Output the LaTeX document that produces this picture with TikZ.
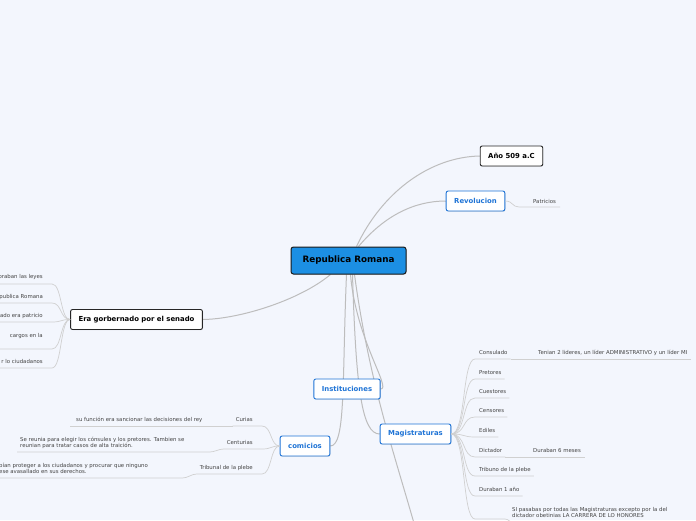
\documentclass[tikz,border=0pt]{standalone}
\usepackage{fontspec}
\setmainfont{DejaVu Sans}
\usepackage{tikz}
\usetikzlibrary{positioning,calc,shadows,backgrounds}
\definecolor{bgpaper}{HTML}{F3F6FD}
\definecolor{rootblue}{HTML}{1C8FE3}
\definecolor{topicblue}{HTML}{1F74D6}
\definecolor{branchgray}{HTML}{BDBDBD}
\definecolor{leafgray}{HTML}{D0D0D0}
\definecolor{leaftext}{HTML}{444444}
\tikzset{
root/.style={
draw=black!90,
line width=1pt,
rounded corners=2.5pt,
fill=rootblue,
minimum width=115pt,
minimum height=27pt,
font=\bfseries\fontsize{8.8}{10}\selectfont,
drop shadow={shadow xshift=0.7pt,shadow yshift=-0.7pt,opacity=0.3}
},
topic/.style={
draw=black!85,
line width=0.9pt,
rounded corners=2pt,
fill=white,
minimum height=20pt,
inner xsep=8pt,
font=\bfseries\fontsize{6.9}{8}\selectfont,
drop shadow={shadow xshift=0.6pt,shadow yshift=-0.6pt,opacity=0.3}
},
subtopic/.style={
topic,
draw=topicblue,
text=topicblue
},
leaf/.style={
inner sep=0pt,
text height=4pt,
text depth=1.3pt,
text=leaftext,
font=\fontsize{5.4}{6.2}\selectfont
},
note/.style={
inner sep=0pt,
align=left,
text=leaftext,
font=\fontsize{5.4}{6.2}\selectfont
},
branch/.style={
draw=branchgray,
line width=1pt
},
twig/.style={
draw=leafgray,
line width=0.7pt
}
}

\begin{document}
\begin{tikzpicture}[x=1pt,y=-1pt]

\clip (0,0) rectangle (696,520);

% main topics
\node[root](rep) at (348.5,260.5){Republica Romana};

\node[topic](anio) at (511.5,156){Año 509 a.C};

\node[subtopic](revol) at (475.5,201){Revolucion};

\node[topic](senado) at (136.5,319.5){Era gorbernado por el senado};

\node[subtopic](instit) at (347,389){Instituciones};

\node[subtopic](comic) at (305,446){comicios};

\node[subtopic](magis) at (415.5,434){Magistraturas};

\coordinate (below) at (420,545);

\begin{scope}[on background layer]
\fill[bgpaper] (0,0) rectangle (696,520);
\draw[branch] ($(rep.north)+(8,0)$) .. controls (382,192) and (430,157) .. (anio.west);
\draw[branch] ($(rep.north)+(10,0)$) .. controls (385,215) and (415,201) .. (revol.west);
\draw[branch] ($(rep.south)+(-18,0)$) .. controls (300,300) and (240,319) .. (senado.east);
\draw[branch] ($(rep.south)+(2,0)$) .. controls (356,340) and (392,389) .. (instit.east);
\draw[branch] ($(rep.south)+(-2,0)$) .. controls (342,380) and (346,446) .. (comic.east);
\draw[branch] ($(rep.south)+(4,0)$) .. controls (356,390) and (362,434) .. (magis.west);
\draw[branch] ($(rep.south)+(6,0)$) .. controls (370,390) and (400,470) .. (below);
\end{scope}

% revolucion
\node[leaf,anchor=west](patric) at (533,202){Patricios};
\draw[twig] (revol.east) .. controls (513,201) and (512,207) .. (519,207) -- ($(patric.east)+(4,5)$);

% senado
\foreach \name/\txt/\y/\u in {s1/oraban las leyes/277/284,s2/publica Romana/297/303,s3/ado era patricio/316/322,s4/cargos en la/336/349,s5/r lo ciudadanos/362/368}{
\node[leaf,anchor=east](\name) at (43,\y){\txt};
\draw[twig] (senado.west) .. controls +(-10,0) and +(10,0) .. (52,\u) -- (0,\u);
}

% comicios
\foreach \name/\txt/\y in {curias/Curias/420,centur/Centurias/443,tribunal/Tribunal de la plebe/468}{
\node[leaf,anchor=east](\name) at (253,\y){\txt};
\draw[twig] (comic.west) .. controls (270,446) and (272,\y+6) .. (262,\y+6) -- ($(\name.west)+(-3,6)$);
}

\node[leaf,anchor=west](curiaschild) at (76,420){su función era sancionar las decisiones del rey};
\draw[twig] ($(curias.west)+(-3,6)$) -- ($(curiaschild.west)+(-6,6)$);

\node[note,anchor=west](centurchild) at (20,443){Se reunia para elegir los cónsules y los pretores. Tambien se\\reunian para tratar casos de alta traición.};
\draw[twig] ($(centur.west)+(-3,6)$) .. controls +(-5,0) and +(5,0) .. ++(-14,3) -- (17,452);

\node[note,anchor=west](tribunalchild) at (-1,468){bían proteger a los ciudadanos y procurar que ninguno\\ese avasallado en sus derechos.};
\draw[twig] ($(tribunal.west)+(-3,6)$) .. controls +(-5,0) and +(5,0) .. ++(-14,4) -- (0,478);

% magistraturas
\foreach \name/\txt/\y in {consul/Consulado/353,pretor/Pretores/373,cuest/Cuestores/392,censor/Censores/411,ediles/Ediles/431,dicta/Dictador/451,tribuno/Tribuno de la plebe/470,dura/Duraban 1 año/490}{
\node[leaf,anchor=west](\name) at (479,\y){\txt};
\draw[twig] (magis.east) .. controls (466,434) and (462,\y+6) .. (475,\y+6) -- ($(\name.east)+(3,6)$);
}

\node[leaf,anchor=west](consulchild) at (538,353){Tenian 2 lideres, un líder ADMINISTRATIVO y un líder MI};
\draw[twig] ($(consul.east)+(3,6)$) -- ($(consulchild.east)+(4,6)$);

\node[leaf,anchor=west](dictachild) at (533,451){Duraban 6 meses};
\draw[twig] ($(dicta.east)+(3,6)$) -- ($(dictachild.east)+(4,6)$);

\coordinate (carrera) at (475,519);
\draw[twig] (magis.east) .. controls (466,434) and (462,519) .. (carrera) -- ++(30,0) .. controls +(4,0) and +(-4,0) .. ++(9,4) -- ++(200,0);
\node[note,anchor=north west](carrerachild) at (512,507){SI pasabas por todas las Magistraturas excepto por la del\\dictador obetinias LA CARRERA DE LO HONORES};

\end{tikzpicture}
\end{document}
